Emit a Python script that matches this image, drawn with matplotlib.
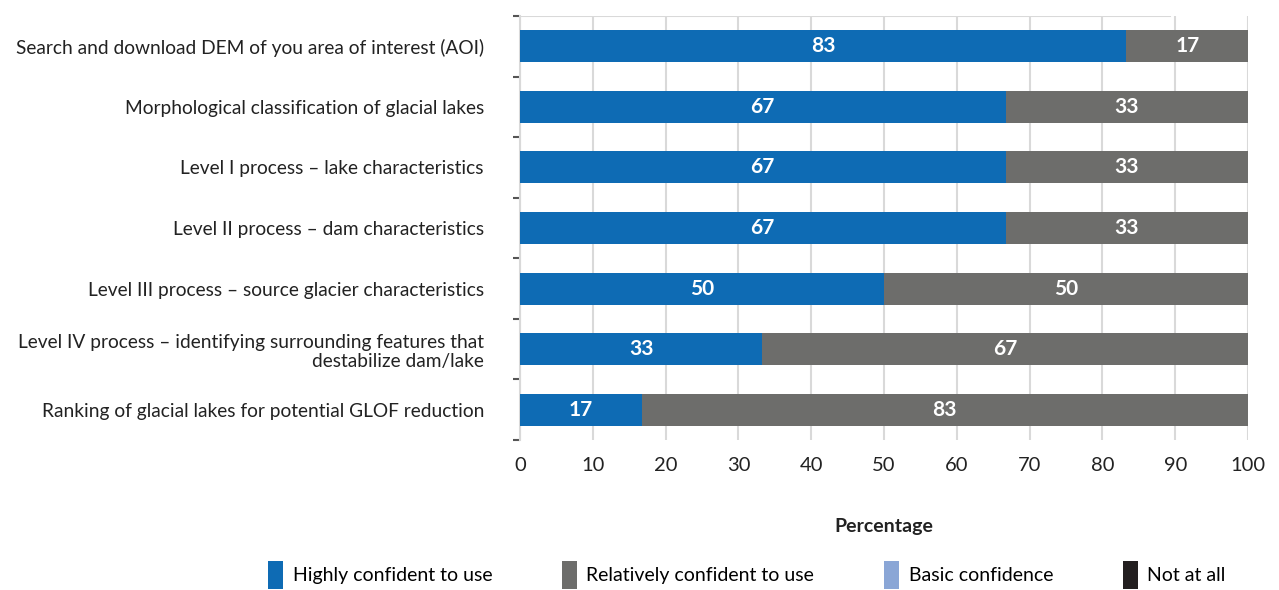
import matplotlib.pyplot as plt
import numpy as np

plt.rcParams['font.family'] = ['Lato', 'DejaVu Sans']

tasks = [
    "Search and download DEM of you area of interest (AOI)",
    "Morphological classification of glacial lakes",
    "Level I process \u2013 lake characteristics",
    "Level II process \u2013 dam characteristics",
    "Level III process \u2013 source glacier characteristics",
    "Level IV process \u2013 identifying surrounding features that\ndestabilize dam/lake",
    "Ranking of glacial lakes for potential GLOF reduction",
]
highly = [83.3, 66.7, 66.7, 66.7, 50.0, 33.3, 16.7]
relatively = [16.7, 33.3, 33.3, 33.3, 50.0, 66.7, 83.3]
basic = [0, 0, 0, 0, 0, 0, 0]
not_at_all = [0, 0, 0, 0, 0, 0, 0]

series = [
    ("Highly confident to use", highly, "#0e6bb4"),
    ("Relatively confident to use", relatively, "#6d6d6b"),
    ("Basic confidence", basic, "#8aa6d6"),
    ("Not at all", not_at_all, "#231f20"),
]

fig = plt.figure(figsize=(12.79, 5.90), dpi=100)
ax = fig.add_axes([520 / 1279, 1 - 440 / 590, 728 / 1279, 424 / 590])

y = np.arange(len(tasks))
left = np.zeros(len(tasks))
for name, vals, col in series:
    vals = np.array(vals, dtype=float)
    bars = ax.barh(y, vals, left=left, height=0.53, color=col, label=name, zorder=3)
    for b, v in zip(bars, vals):
        if v > 0:
            ax.text(b.get_x() + b.get_width() / 2, b.get_y() + b.get_height() / 2,
                    f"{v:.0f}", ha="center", va="center", color="white",
                    fontsize=15, fontweight="bold", zorder=4)
    left += vals

ax.set_xlim(0, 100)
ax.set_ylim(len(tasks) - 0.5, -0.5)
ax.set_xticks(np.arange(0, 101, 10))
ax.tick_params(axis="x", length=0, labelsize=14.5, pad=12, colors="#222222")
ax.set_yticks(y)
ax.set_yticklabels(tasks, fontsize=13.8, color="#222222")
ax.tick_params(axis="y", length=0, pad=26)
ax.set_yticks(np.arange(-0.5, len(tasks), 1), minor=True)
ax.tick_params(axis="y", which="minor", length=5, width=1.5, color="#555555", direction="out")

ax.grid(axis="x", color="#d9d9d9", linewidth=1.5, zorder=0)
for s in ["top", "right", "bottom"]:
    ax.spines[s].set_visible(False)
ax.spines["left"].set_color("#d9d9d9")
ax.spines["left"].set_linewidth(1.5)
ax.axhline(-0.5, xmax=0.893, color="#d9d9d9", linewidth=1.5, zorder=1)

ax.set_xlabel("Percentage", fontsize=14, fontweight="bold", labelpad=32, color="#222222")

handles, labels = ax.get_legend_handles_labels()
fig.legend(handles, labels, loc="center", bbox_to_anchor=(747 / 1279, 1 - 575 / 590),
           ncol=4, frameon=False, fontsize=14, handlelength=0.75, handleheight=1.9,
           handletextpad=0.5, columnspacing=3.6)

fig.savefig("out.png", dpi=100)
